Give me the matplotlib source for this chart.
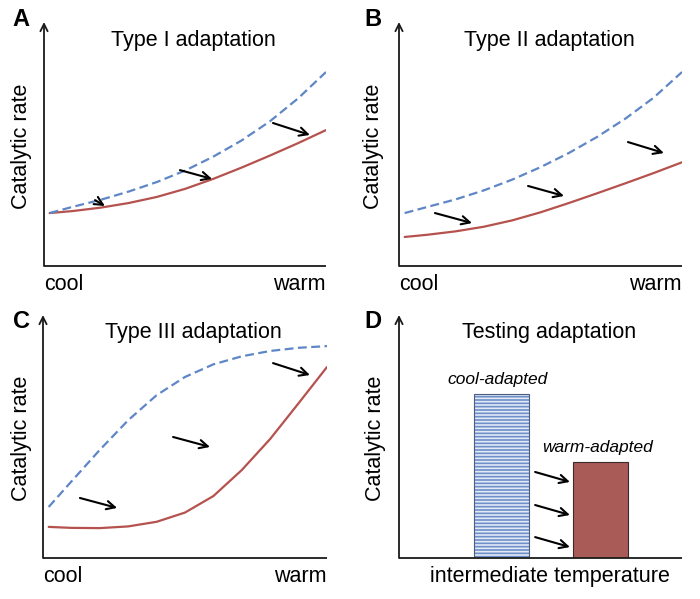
import matplotlib
matplotlib.use("Agg")
import matplotlib.pyplot as plt

plt.rcParams['font.family'] = ['Liberation Sans', 'DejaVu Sans']

# ---------------- data (normalised units: 0..1 along each axis) ----------------
temp = [0.02, 0.1, 0.2, 0.3, 0.4, 0.5, 0.6, 0.7, 0.8, 0.9, 1.0]

a_cool = [0.217, 0.242, 0.271, 0.305, 0.344, 0.391, 0.448, 0.514, 0.592, 0.686, 0.795]
a_warm = [0.217, 0.225, 0.239, 0.258, 0.283, 0.316, 0.357, 0.403, 0.452, 0.503, 0.557]

b_cool = [0.217, 0.242, 0.273, 0.310, 0.354, 0.405, 0.463, 0.529, 0.604, 0.690, 0.795]
b_warm = [0.119, 0.128, 0.142, 0.161, 0.187, 0.220, 0.258, 0.298, 0.339, 0.381, 0.425]

c_cool = [0.210, 0.315, 0.445, 0.567, 0.670, 0.745, 0.797, 0.830, 0.852, 0.865, 0.872]
c_warm = [0.128, 0.124, 0.123, 0.130, 0.149, 0.187, 0.255, 0.362, 0.490, 0.637, 0.786]

bar_labels = ["cool-adapted", "warm-adapted"]
bar_pos = [0.362, 0.712]
bar_vals = [0.675, 0.395]

panel_letters = ["A", "B", "C", "D"]
titles = ["Type I adaptation", "Type II adaptation", "Type III adaptation", "Testing adaptation"]

# arrows: (x0, y0, x1, y1) in axes units
arrows_a = [(0.181, 0.270, 0.216, 0.246), (0.482, 0.393, 0.596, 0.357), (0.812, 0.586, 0.943, 0.537)]
arrows_b = [(0.127, 0.217, 0.258, 0.176), (0.456, 0.328, 0.583, 0.287), (0.809, 0.508, 0.936, 0.463)]
arrows_c = [(0.130, 0.247, 0.261, 0.206), (0.458, 0.498, 0.588, 0.457), (0.810, 0.802, 0.940, 0.753)]
arrows_d = [(0.481, 0.354, 0.604, 0.313), (0.481, 0.218, 0.604, 0.177), (0.481, 0.086, 0.604, 0.045)]

# ---------------- style ----------------
BLUE = '#5f86c6'
RED = '#b5524e'
BAR_RED = '#a95b57'
AX = '#1a1a1a'
FS = 15.5

W, H = 700, 599
fig = plt.figure(figsize=(W / 100, H / 100), dpi=100)
fig.patch.set_facecolor('white')


def make_ax(x0, x1, ybot, ytop):
    ax = fig.add_axes([x0 / W, (H - ybot) / H, (x1 - x0) / W, (ybot - ytop) / H])
    ax.set_xlim(0, 1)
    ax.set_ylim(0, 1)
    ax.axis('off')
    ax.plot([0, 1], [0, 0], color=AX, lw=1.3, solid_capstyle='butt', clip_on=False)
    ax.annotate('', xy=(0, 1.0), xytext=(0, 0), xycoords='axes fraction',
                arrowprops=dict(arrowstyle='->', color=AX, lw=1.3, mutation_scale=13,
                                shrinkA=0, shrinkB=0))
    return ax


def draw_arrows(ax, arrows):
    for x0, y0, x1, y1 in arrows:
        ax.annotate('', xy=(x1, y1), xytext=(x0, y0),
                    arrowprops=dict(arrowstyle='->', color='black', lw=1.5,
                                    mutation_scale=15, shrinkA=0, shrinkB=0))


axA = make_ax(44, 326, 266, 22)
axB = make_ax(399, 682, 266, 22)
axC = make_ax(43, 327, 558, 315)
axD = make_ax(399, 682, 558, 315)
axes = [axA, axB, axC, axD]

for ax, cool, warm in [(axA, a_cool, a_warm), (axB, b_cool, b_warm), (axC, c_cool, c_warm)]:
    ax.plot(temp, warm, color=RED, lw=1.6, solid_capstyle='round', solid_joinstyle='round')
    ax.plot(temp, cool, color=BLUE, lw=1.6, dashes=(4, 2))

draw_arrows(axA, arrows_a)
draw_arrows(axB, arrows_b)
draw_arrows(axC, arrows_c)
draw_arrows(axD, arrows_d)

# bars
plt.rcParams['hatch.linewidth'] = 1.2
axD.bar([bar_pos[0]], [bar_vals[0]], width=0.194, color='#6e8fca',
        edgecolor='#e3eaf6', hatch='-----', linewidth=0)
axD.bar([bar_pos[0]], [bar_vals[0]], width=0.194, fill=False,
        edgecolor='#4a5d80', linewidth=0.8)
axD.bar([bar_pos[1]], [bar_vals[1]], width=0.194, color=BAR_RED,
        edgecolor='#3a2a2a', linewidth=0.8)
axD.text(bar_pos[0] - 0.012, bar_vals[0] + 0.058, bar_labels[0], ha='center', va='center',
         fontsize=12.5, style='italic')
axD.text(bar_pos[1] - 0.012, bar_vals[1] + 0.058, bar_labels[1], ha='center', va='center',
         fontsize=12.5, style='italic')

# titles, letters and labels
for ax, t in zip(axes, titles):
    ax.text(0.53, 0.926, t, ha='center', va='center', fontsize=FS)

letter_pos = [(21, 20), (373, 20), (21, 321), (373, 321)]
for L, (px, py) in zip(panel_letters, letter_pos):
    fig.text(px / W, 1 - py / H, L, ha='center', va='center', fontsize=17, fontweight='bold')

ylab_pos = [(22, 146), (374, 146), (22, 438), (376, 438)]
for px, py in ylab_pos:
    fig.text(px / W, 1 - py / H, "Catalytic rate", ha='center', va='center',
             rotation=90, fontsize=FS)

for ax in [axA, axB, axC]:
    ax.text(0.0, -0.075, "cool", ha='left', va='center', fontsize=FS)
    ax.text(1.0, -0.075, "warm", ha='right', va='center', fontsize=FS)

axD.text(0.535, -0.075, "intermediate temperature", ha='center', va='center', fontsize=FS)

fig.savefig("out.png", dpi=100, facecolor='white')
